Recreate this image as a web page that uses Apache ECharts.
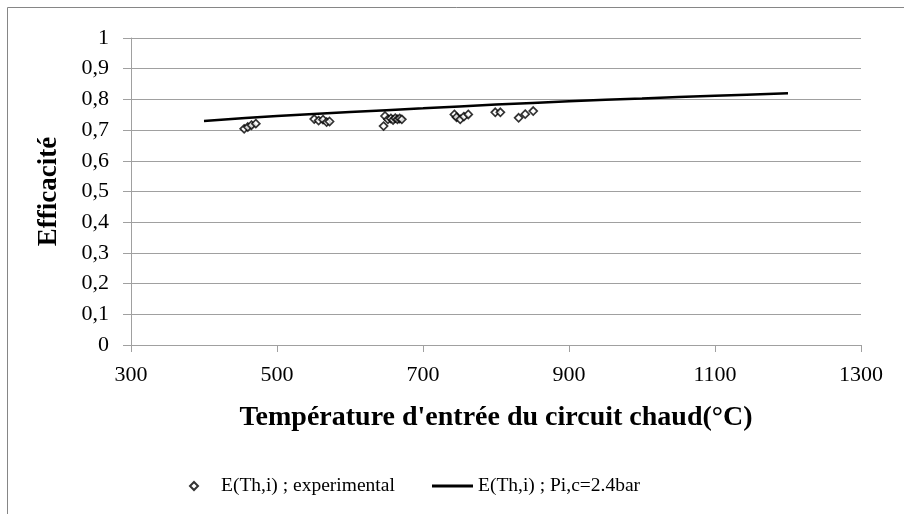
<!DOCTYPE html>
<html>
<head>
<meta charset="utf-8">
<script src="https://cdn.jsdelivr.net/npm/echarts@6/dist/echarts.min.js"></script>
<style>
  html, body { margin: 0; padding: 0; background: #fff; }
  #chart { width: 904px; height: 514px; }
</style>
</head>
<body>
<div id="chart"></div>
<script>
// Measured efficiency vs. hot-circuit inlet temperature
const expTemps = [455, 460, 465, 471,
                  551, 557, 563, 568, 572,
                  646, 648, 652, 656, 659, 662, 665, 668, 671,
                  743, 746, 751, 756, 762,
                  799, 806,
                  831, 840, 851];
const expEff   = [0.704, 0.710, 0.716, 0.721,
                  0.736, 0.731, 0.734, 0.726, 0.728,
                  0.713, 0.746, 0.735, 0.738, 0.733, 0.739, 0.735, 0.738, 0.735,
                  0.751, 0.742, 0.735, 0.744, 0.751,
                  0.758, 0.758,
                  0.740, 0.752, 0.762];

// Model curve at Pi,c = 2.4 bar
const modelTemps = [400, 500, 600, 700, 800, 900, 1000, 1100, 1200];
const modelEff   = [0.730, 0.746, 0.759, 0.771, 0.783, 0.794, 0.803, 0.812, 0.820];

const seriesNames = ['E(Th,i) ; experimental', 'E(Th,i) ; Pi,c=2.4bar'];

const FONT = "'Liberation Serif', 'Times New Roman', serif";
const GRIDC = '#a0a0a0';

const chart = echarts.init(document.getElementById('chart'), null, { renderer: 'canvas' });

chart.setOption({
  backgroundColor: '#fff',
  animation: false,
  graphic: [{
    type: 'rect',
    shape: { x: 7.5, y: 7.5, width: 1000, height: 1000 },
    style: { fill: 'none', stroke: '#868686', lineWidth: 1 },
    silent: true,
    z: -1
  }],
  grid: { left: 131, right: 43, top: 38, bottom: 169 },
  xAxis: {
    type: 'value',
    min: 300, max: 1300, interval: 200,
    name: "Température d'entrée du circuit chaud(°C)",
    nameLocation: 'middle',
    nameGap: 59,
    nameTextStyle: { fontFamily: FONT, fontWeight: 'bold', fontSize: 28, color: '#000' },
    axisLine: { show: true, lineStyle: { color: GRIDC, width: 1 } },
    axisTick: { show: true, length: 7, lineStyle: { color: GRIDC } },
    axisLabel: {
      fontFamily: FONT, fontSize: 22, color: '#000', margin: 19,
      formatter: v => String(v)
    },
    splitLine: { show: false }
  },
  yAxis: {
    type: 'value',
    min: 0, max: 1, interval: 0.1,
    name: 'Efficacité',
    nameLocation: 'middle',
    nameGap: 68,
    nameTextStyle: { fontFamily: FONT, fontWeight: 'bold', fontSize: 27, color: '#000' },
    axisLine: { show: true, lineStyle: { color: GRIDC, width: 1 } },
    axisTick: { show: true, length: 8, lineStyle: { color: GRIDC } },
    axisLabel: {
      fontFamily: FONT, fontSize: 22, color: '#000', margin: 22,
      formatter: v => String(Math.round(v * 10) / 10).replace('.', ',')
    },
    splitLine: { show: true, lineStyle: { color: GRIDC, width: 1 } }
  },
  legend: [{
    data: [seriesNames[0]],
    left: 184, top: 471,
    itemWidth: 8, itemHeight: 8,
    textStyle: { fontFamily: FONT, fontSize: 19.5, color: '#000', padding: [0, 0, 0, 18], lineHeight: 20 }
  }, {
    data: [{ name: seriesNames[1], icon: 'rect' }],
    left: 427, top: 471,
    itemWidth: 41, itemHeight: 3,
    itemStyle: { color: '#000' },
    textStyle: { fontFamily: FONT, fontSize: 19.5, color: '#000', lineHeight: 20 }
  }],
  series: [{
    name: seriesNames[0],
    type: 'scatter',
    symbol: 'diamond',
    symbolSize: 8,
    itemStyle: { color: '#fff', borderColor: '#000', borderWidth: 1.7 },
    data: expTemps.map((t, i) => [t, expEff[i]]),
    z: 3
  }, {
    name: seriesNames[1],
    type: 'line',
    smooth: 0.3,
    symbol: 'none',
    lineStyle: { color: '#000', width: 2.5 },
    itemStyle: { color: '#000' },
    data: modelTemps.map((t, i) => [t, modelEff[i]]),
    z: 2
  }]
});
</script>
</body>
</html>
